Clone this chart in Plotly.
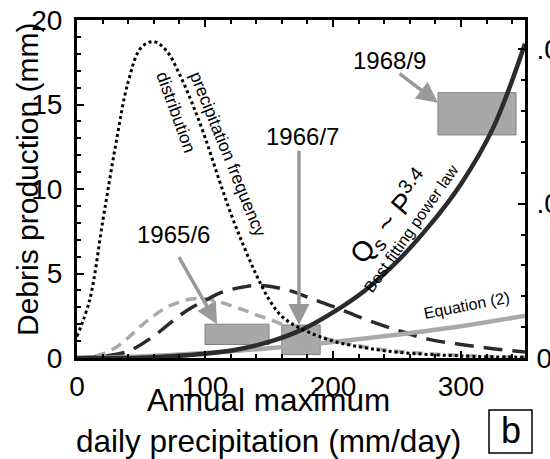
import plotly.graph_objects as go

# ---------------- data ----------------
# precipitation frequency distribution (right axis, frequency units)
freq_x = [0, 10, 20, 30, 40, 50, 60, 70, 80, 90, 100, 110, 120, 130, 140, 150,
          160, 175, 200, 225, 250, 300, 350]
freq_y = [0.0014, 0.0038, 0.0088, 0.0137, 0.0179, 0.0201, 0.0205, 0.0199, 0.0184,
          0.0165, 0.0143, 0.0118, 0.0094, 0.0073, 0.0054, 0.0038, 0.0027, 0.0019,
          0.0011, 0.00066, 0.00038, 0.00013, 0.00005]

# best fitting power law  Qs ~ P^3.4 (left axis, mm)
pow_x = [0, 50, 100, 125, 150, 175, 200, 225, 250, 275, 300, 325, 350]
pow_y = [0, 0.02, 0.25, 0.5, 0.95, 1.65, 2.7, 4.0, 5.7, 7.8, 10.3, 13.6, 18.6]

# Equation (2)
eq_x = [0, 50, 100, 150, 200, 250, 300, 350]
eq_y = [0, 0.09, 0.29, 0.58, 0.95, 1.38, 1.88, 2.5]

# light grey dashed curve
lgd_x = [0, 10, 20, 30, 40, 50, 60, 70, 80, 90, 100, 110, 120, 130, 140, 150, 160,
         175, 200, 225, 250, 275, 300, 325, 350]
lgd_y = [0, 0.05, 0.25, 0.6, 1.2, 1.9, 2.5, 3.0, 3.3, 3.5, 3.5, 3.35, 3.1, 2.85,
         2.55, 2.3, 2.0, 1.6, 1.05, 0.65, 0.4, 0.25, 0.15, 0.08, 0.05]

# dark dashed curve
dkd_x = [0, 20, 40, 60, 70, 80, 90, 100, 110, 120, 130, 140, 150, 160, 170, 180,
         200, 225, 250, 275, 300, 325, 350]
dkd_y = [0, 0.1, 0.4, 1.3, 1.9, 2.5, 3.0, 3.4, 3.8, 4.05, 4.2, 4.3, 4.25, 4.1, 3.9,
         3.6, 3.05, 2.3, 1.65, 1.1, 0.8, 0.55, 0.35]

# observed events (boxes): precipitation range and debris production range
ev_names = ["1965/6", "1966/7", "1968/9"]
ev_x0 = [100, 160, 282]
ev_x1 = [150, 190, 343]
ev_y0 = [0.8, 0.2, 13.2]
ev_y1 = [2.0, 1.95, 15.7]

x_ticks = [0, 100, 200, 300]
y_ticks = [0, 5, 10, 15, 20]
y2_ticks = [0, 0.01, 0.02]
y2_text = ["0", ".01", ".02"]

FONT = "Liberation Sans, Arial, sans-serif"
DARK = "#2b2b2b"
LIGHT = "#a9a9a9"

# plot-area pixel geometry (for placing free text)
L, R, T, B = 77, 525, 20, 358


def px(xp):
    return (xp - L) / (R - L)


def py(yp):
    return (B - yp) / (B - T)


fig = go.Figure()

fig.add_trace(go.Scatter(x=freq_x, y=freq_y, yaxis="y2", mode="lines",
                         line=dict(color="black", width=3, dash="3px,3px", shape="spline")))
fig.add_trace(go.Scatter(x=lgd_x, y=lgd_y, mode="lines",
                         line=dict(color=LIGHT, width=3.5, dash="11px,7px", shape="spline")))
fig.add_trace(go.Scatter(x=dkd_x, y=dkd_y, mode="lines",
                         line=dict(color=DARK, width=3.5, dash="19px,10px", shape="spline")))
fig.add_trace(go.Scatter(x=eq_x, y=eq_y, mode="lines",
                         line=dict(color=LIGHT, width=4.5, shape="spline")))
fig.add_trace(go.Scatter(x=pow_x, y=pow_y, mode="lines",
                         line=dict(color=DARK, width=4.5, shape="spline")))

# event boxes
for i in range(len(ev_names)):
    fig.add_shape(type="rect", xref="x", yref="y", x0=ev_x0[i], x1=ev_x1[i],
                  y0=ev_y0[i], y1=ev_y1[i], layer="below",
                  fillcolor="#a8a8a8", line=dict(color="#808080", width=1))

# arrows pointing at the boxes
arrow_tail = [(79, 6.06), (173.4, 12.35), (250.8, 16.9)]
arrow_tip = [(109.4, ev_y1[0]), (173.4, ev_y1[1]), (ev_x0[2], 15.1)]
label_pos = [(75, 7.3), (176, 13.1), (244, 17.6)]
for i in range(3):
    fig.add_annotation(x=arrow_tip[i][0], y=arrow_tip[i][1], xref="x", yref="y",
                       ax=arrow_tail[i][0], ay=arrow_tail[i][1], axref="x", ayref="y",
                       showarrow=True, arrowhead=2, arrowsize=1.2, arrowwidth=3.5,
                       arrowcolor="#999999", text="")
    fig.add_annotation(x=label_pos[i][0], y=label_pos[i][1], xref="x", yref="y",
                       text=ev_names[i], showarrow=False, xanchor="center", yanchor="middle",
                       font=dict(family=FONT, size=24, color="black"))


def label(xp, yp, text, size, angle=0, **kw):
    fig.add_annotation(xref="paper", yref="paper", x=px(xp), y=py(yp), text=text,
                       showarrow=False, textangle=angle, xanchor="center",
                       yanchor="middle", font=dict(family=FONT, size=size, color="black"),
                       **kw)


# curve labels
label(228, 154, "precipitation frequency", 17.5, 68)
label(176, 112, "distribution", 17.5, 70)
label(391, 217, "Q<sub>s</sub> ~ P<sup>3.4</sup>", 28, -50)
label(411, 228, "Best fitting power law", 16, -55)
label(466, 305, "Equation (2)", 16, -11)

# axis titles
label(268, 420, "Annual maximum<br>daily precipitation (mm/day)", 31.5)
label(27, 180, "Debris production (mm)", 30, -90)

# panel letter with frame
fig.add_shape(type="rect", xref="paper", yref="paper", x0=px(489), x1=px(532),
              y0=py(453), y1=py(410), line=dict(color="black", width=1.5))
label(510.5, 431, "b", 36)

axis_common = dict(showgrid=False, zeroline=False, showline=True, linecolor="black",
                   linewidth=3, ticks="inside", tickcolor="black", tickwidth=1.5,
                   automargin=False, tickfont=dict(family=FONT, size=28, color="black"))

fig.update_layout(
    width=550, height=459, showlegend=False,
    margin=dict(l=L, r=550 - R, t=T, b=459 - B, pad=0),
    paper_bgcolor="white", plot_bgcolor="white",
    xaxis=dict(range=[0, 350], tickvals=x_ticks, ticklen=7, mirror="ticks",
               minor=dict(dtick=20, tick0=0, ticks="inside", ticklen=4, tickcolor="black"),
               ticklabelstandoff=1, **axis_common),
    yaxis=dict(range=[0, 20], tickvals=y_ticks, ticklen=7,
               minor=dict(dtick=1, tick0=0, ticks="inside", ticklen=4, tickcolor="black"),
               ticklabelstandoff=6, **axis_common),
    yaxis2=dict(range=[0, 0.0219], overlaying="y", side="right", tickvals=y2_ticks,
                ticktext=y2_text, ticklen=7,
                minor=dict(dtick=0.002, tick0=0, ticks="inside", ticklen=4, tickcolor="black"),
                ticklabelstandoff=3, **axis_common),
)

fig.write_html("out.html")
